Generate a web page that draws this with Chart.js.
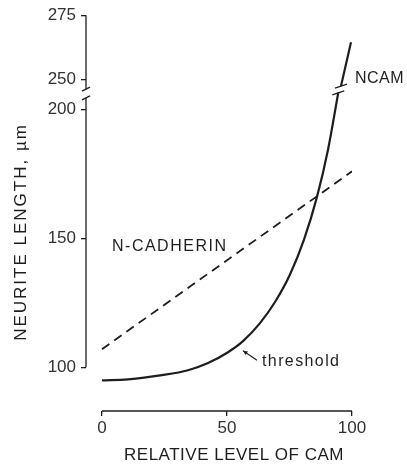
<!DOCTYPE html>
<html>
<head>
<meta charset="utf-8">
<script src="https://cdn.jsdelivr.net/npm/chart.js@4.4.0/dist/chart.umd.min.js"></script>
<style>
  body { margin: 0; background: #fff; }
  canvas { display: block; }
</style>
</head>
<body>
<canvas id="camChart" width="407" height="466"></canvas>
<script>
// Valores
const ncamLowX = [0, 10.4, 24, 34.4, 42.4, 50.4, 56.4, 63.2, 69.2, 75.2, 80.8, 86, 90.4, 94.5];
const ncamLowY = [94.9, 95.3, 96.9, 98.8, 101.6, 105.8, 110.1, 117.1, 125.3, 136, 149.5, 166.1, 184.4, 206.5];
const ncamTopX = [95.6, 99.6];
const ncamTopY = [247.5, 264.5];
const cadherinX = [0, 100];
const cadherinY = [107, 176];

const xTicks = [0, 50, 100];
const yLowTicks = [100, 150, 200];
const yTopTicks = [250, 275];

const ink = '#1e1e1e';
const fontFamily = '"Liberation Sans", Arial, Helvetica, sans-serif';

function toPoints(xs, ys) {
    return xs.map((x, i) => ({ x: x, y: ys[i] }));
}

function line(ctx, x1, y1, x2, y2) {
    ctx.beginPath();
    ctx.moveTo(x1, y1);
    ctx.lineTo(x2, y2);
    ctx.stroke();
}

function text(ctx, str, x, y, size, spacing, align) {
    ctx.font = size + 'px ' + fontFamily;
    ctx.letterSpacing = spacing + 'px';
    ctx.textAlign = align;
    ctx.textBaseline = 'middle';
    ctx.fillText(str, x, y);
}

// Ejes cortados, marcas de corte, textos y flecha
const decorations = {
    id: 'decorations',
    afterDraw(chart) {
        const ctx = chart.ctx;
        const x = chart.scales.x;
        const yLow = chart.scales.yLow;
        const yTop = chart.scales.yTop;
        const left = chart.chartArea.left;
        const bottom = chart.chartArea.bottom;

        ctx.save();
        ctx.strokeStyle = ink;
        ctx.fillStyle = ink;
        ctx.lineWidth = 1.3;

        // eje y en dos tramos
        const topEnd = yTop.getPixelForValue(246.3);
        const lowEnd = yLow.getPixelForValue(204.5);
        line(ctx, left, yTop.getPixelForValue(275), left, topEnd);
        line(ctx, left, yLow.getPixelForValue(100), left, lowEnd);
        line(ctx, left - 4, topEnd + 2, left + 4, topEnd - 2);
        line(ctx, left - 4, lowEnd + 2, left + 4, lowEnd - 2);

        // eje x separado
        line(ctx, x.getPixelForValue(0), bottom, x.getPixelForValue(100), bottom);

        // corte de la curva NCAM
        const lowPts = chart.getDatasetMeta(0).data;
        const a = lowPts[lowPts.length - 1];
        const b = chart.getDatasetMeta(1).data[0];
        line(ctx, a.x - 6, a.y + 2, a.x + 6, a.y - 2);
        line(ctx, b.x - 6, b.y + 2, b.x + 6, b.y - 2);

        // flecha de threshold
        const hx = x.getPixelForValue(56.4), hy = yLow.getPixelForValue(106.4);
        const tx = x.getPixelForValue(62), ty = yLow.getPixelForValue(102.7);
        ctx.lineWidth = 1.1;
        line(ctx, tx, ty, hx, hy);
        const ang = Math.atan2(hy - ty, hx - tx);
        ctx.beginPath();
        ctx.moveTo(hx, hy);
        ctx.lineTo(hx - 5 * Math.cos(ang - 0.45), hy - 5 * Math.sin(ang - 0.45));
        ctx.lineTo(hx - 5 * Math.cos(ang + 0.45), hy - 5 * Math.sin(ang + 0.45));
        ctx.closePath();
        ctx.fill();

        // etiquetas
        text(ctx, 'NCAM', x.getPixelForValue(101.2), yTop.getPixelForValue(250.3), 16, 0.5, 'left');
        text(ctx, 'N-CADHERIN', x.getPixelForValue(4), yLow.getPixelForValue(146.7), 16, 1.5, 'left');
        text(ctx, 'threshold', x.getPixelForValue(64), yLow.getPixelForValue(102), 16, 1.4, 'left');
        text(ctx, 'RELATIVE LEVEL OF CAM', 234, 455, 17, 0.5, 'center');

        ctx.translate(21, 232);
        ctx.rotate(-Math.PI / 2);
        text(ctx, 'NEURITE LENGTH, \u00b5m', 0, 0, 17, 2, 'center');
        ctx.restore();
    }
};

const tickFont = { family: fontFamily, size: 17 };
const gridOpts = { drawOnChartArea: false, drawTicks: true, tickLength: 5, color: ink, lineWidth: 1.3 };

new Chart(document.getElementById('camChart'), {
    type: 'line',
    data: {
        datasets: [{
            label: 'NCAM',
            data: toPoints(ncamLowX, ncamLowY),
            yAxisID: 'yLow',
            borderColor: ink,
            borderWidth: 2.2,
            pointRadius: 0,
            cubicInterpolationMode: 'monotone'
        }, {
            label: 'NCAM (tramo superior)',
            data: toPoints(ncamTopX, ncamTopY),
            yAxisID: 'yTop',
            borderColor: ink,
            borderWidth: 2.2,
            pointRadius: 0
        }, {
            label: 'N-CADHERIN',
            data: toPoints(cadherinX, cadherinY),
            yAxisID: 'yLow',
            borderColor: ink,
            borderWidth: 1.8,
            borderDash: [9, 6],
            pointRadius: 0
        }]
    },
    options: {
        responsive: false,
        animation: false,
        layout: { padding: { top: 15, right: 55, bottom: 0, left: 0 } },
        plugins: { legend: { display: false }, tooltip: { enabled: false } },
        scales: {
            x: {
                type: 'linear',
                min: -6.4,
                max: 100,
                afterBuildTicks: s => { s.ticks = xTicks.map(v => ({ value: v })); },
                afterFit: s => { s.height = 55; },
                grid: gridOpts,
                border: { display: false },
                ticks: { autoSkip: false, maxRotation: 0, padding: 2, color: '#333', font: tickFont }
            },
            yLow: {
                type: 'linear',
                position: 'left',
                stack: 'y',
                stackWeight: 124,
                min: 83,
                max: 207,
                afterBuildTicks: s => { s.ticks = yLowTicks.map(v => ({ value: v })); },
                afterFit: s => { s.width = 86; },
                grid: gridOpts,
                border: { display: false },
                ticks: { autoSkip: false, padding: 5, color: '#333', font: tickFont }
            },
            yTop: {
                type: 'linear',
                position: 'left',
                stack: 'y',
                stackWeight: 29.6,
                min: 245.4,
                max: 275,
                afterBuildTicks: s => { s.ticks = yTopTicks.map(v => ({ value: v })); },
                afterFit: s => { s.width = 86; },
                grid: gridOpts,
                border: { display: false },
                ticks: { autoSkip: false, padding: 5, color: '#333', font: tickFont }
            }
        }
    },
    plugins: [decorations]
});
</script>
</body>
</html>
